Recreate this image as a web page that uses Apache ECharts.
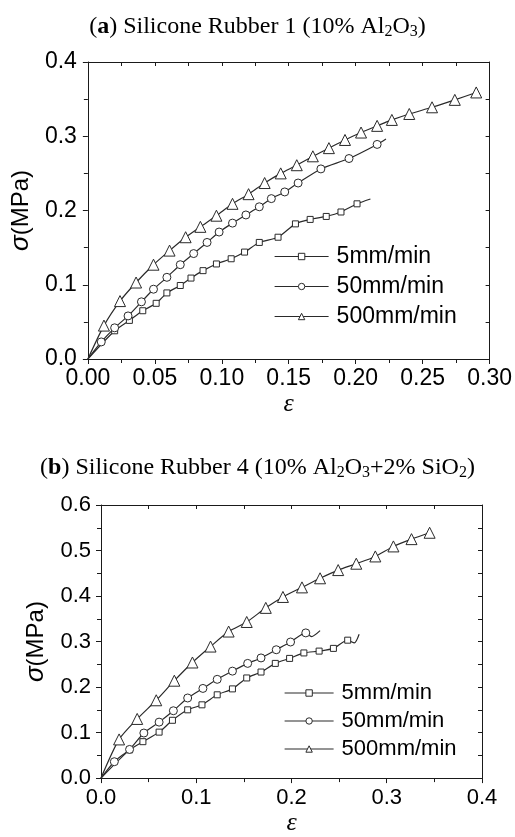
<!DOCTYPE html>
<html>
<head>
<meta charset="utf-8">
<script src="https://cdn.jsdelivr.net/npm/echarts@6/dist/echarts.min.js"></script>
<style>
html,body{margin:0;padding:0;background:#fff;}
#c{width:515px;height:837px;}
</style>
</head>
<body>
<div id="c"></div>
<script>
// ---------- Panel (a) data ----------
const seriesNames = ['5mm/min', '50mm/min', '500mm/min'];
const a_eps_5   = [0.020,0.031,0.041,0.051,0.059,0.069,0.077,0.086,0.096,0.107,0.117,0.128,0.142,0.155,0.166,0.178,0.189,0.201];
const a_sig_5   = [0.038,0.052,0.065,0.075,0.089,0.099,0.109,0.119,0.128,0.135,0.144,0.157,0.164,0.182,0.188,0.192,0.198,0.209];
const a_tail_eps_5 = [0.211];
const a_tail_sig_5 = [0.2155];
const a_eps_50  = [0.010,0.020,0.030,0.040,0.049,0.059,0.069,0.079,0.089,0.098,0.108,0.118,0.128,0.137,0.147,0.157,0.174,0.195,0.216];
const a_sig_50  = [0.023,0.042,0.058,0.077,0.094,0.110,0.127,0.142,0.157,0.171,0.183,0.194,0.205,0.216,0.225,0.237,0.256,0.270,0.289];
const a_tail_eps_50 = [0.2226];
const a_tail_sig_50 = [0.2963];
const a_eps_500 = [0.012,0.024,0.036,0.049,0.061,0.073,0.084,0.096,0.108,0.120,0.132,0.144,0.156,0.168,0.180,0.192,0.204,0.216,0.227,0.240,0.257,0.274,0.290];
const a_sig_500 = [0.045,0.078,0.103,0.127,0.146,0.164,0.178,0.193,0.209,0.222,0.237,0.250,0.261,0.273,0.284,0.295,0.305,0.314,0.322,0.330,0.339,0.349,0.359];
const a_xTickLabels = ['0.00','0.05','0.10','0.15','0.20','0.25','0.30'];
const a_yTickLabels = ['0.0','0.1','0.2','0.3','0.4'];

// ---------- Panel (b) data ----------
const b_eps_5   = [0.030,0.044,0.061,0.075,0.091,0.106,0.122,0.138,0.153,0.168,0.183,0.198,0.213,0.229,0.244,0.259];
const b_sig_5   = [0.062,0.080,0.101,0.127,0.150,0.161,0.183,0.196,0.220,0.233,0.252,0.263,0.275,0.279,0.285,0.303];
const b_tail_eps_5 = [0.266,0.271];
const b_tail_sig_5 = [0.297,0.316];
const b_eps_50  = [0.014,0.030,0.045,0.061,0.076,0.091,0.107,0.122,0.138,0.154,0.168,0.184,0.199,0.215];
const b_sig_50  = [0.036,0.063,0.099,0.123,0.148,0.176,0.197,0.217,0.235,0.252,0.264,0.282,0.299,0.319];
const b_tail_eps_50 = [0.221,0.230];
const b_tail_sig_50 = [0.311,0.324];
const b_eps_500 = [0.019,0.038,0.058,0.077,0.096,0.115,0.134,0.153,0.173,0.191,0.211,0.230,0.249,0.268,0.288,0.307,0.326,0.345];
const b_sig_500 = [0.085,0.130,0.171,0.214,0.254,0.289,0.322,0.343,0.374,0.398,0.419,0.439,0.457,0.471,0.487,0.509,0.525,0.539];
const b_xTickLabels = ['0.0','0.1','0.2','0.3','0.4'];
const b_yTickLabels = ['0.0','0.1','0.2','0.3','0.4','0.5','0.6'];

// ---------- builders ----------
const LINE = '#2a2a2a';
const AX = '#1a1a1a';
function build(eps, sig, tailEps, tailSig) {
  const d = [{value: [0, 0], symbol: 'none'}];
  for (let i = 0; i < eps.length; i++) d.push([eps[i], sig[i]]);
  for (let i = 0; i < tailEps.length; i++) d.push({value: [tailEps[i], tailSig[i]], symbol: 'none'});
  return d;
}
const symbols = ['rect', 'circle', 'triangle'];
function makeSeries(idx, name, data, sizes) {
  return {
    type: 'line', name: name, xAxisIndex: idx * 2, yAxisIndex: idx * 2,
    data: data, smooth: 0.25,
    symbol: symbols[seriesNames.indexOf(name)],
    symbolSize: sizes[seriesNames.indexOf(name)],
    showAllSymbol: true,
    lineStyle: {color: LINE, width: 1.2},
    itemStyle: {color: '#fff', borderColor: LINE, borderWidth: 1},
    emphasis: {disabled: true},
    animation: false
  };
}
const sansLbl = (size) => ({color: '#000', fontFamily: 'Liberation Sans', fontSize: size});

function axesFor(g, xmax, xint, xTopInt, xLabels, ymax, yint, yRightInt, yLabels, fs, xNameGap, yNameGap, xMargin, yMargin) {
  const line = {show: true, onZero: false, lineStyle: {color: AX, width: 1}};
  const xAxes = [
    {gridIndex: g, type: 'value', position: 'bottom', min: 0, max: xmax, interval: xint,
     axisLine: line, splitLine: {show: false},
     axisTick: {show: true, inside: false, length: 5, lineStyle: {color: AX}},
     minorTick: {show: true, splitNumber: 2, length: 4, lineStyle: {color: AX}},
     axisLabel: Object.assign(sansLbl(fs), {margin: xMargin, formatter: v => xLabels[Math.round(v / xint)]}),
     name: 'ε', nameLocation: 'middle', nameGap: xNameGap,
     nameTextStyle: {fontFamily: 'Liberation Serif', fontStyle: 'italic', fontSize: 26, color: '#000'}},
    {gridIndex: g, type: 'value', position: 'top', min: 0, max: xmax, interval: xTopInt,
     axisLine: line, splitLine: {show: false}, axisLabel: {show: false},
     axisTick: {show: true, inside: true, length: 4, lineStyle: {color: AX}}}
  ];
  const yAxes = [
    {gridIndex: g, type: 'value', position: 'left', min: 0, max: ymax, interval: yint,
     axisLine: line, splitLine: {show: false},
     axisTick: {show: true, inside: false, length: 5, lineStyle: {color: AX}},
     minorTick: {show: true, splitNumber: 2, length: 4, lineStyle: {color: AX}},
     axisLabel: Object.assign(sansLbl(fs), {margin: yMargin, formatter: v => yLabels[Math.round(v / yint)]}),
     name: '{i|σ}{n|(MPa)}', nameLocation: 'middle', nameGap: yNameGap, nameRotate: 90,
     nameTextStyle: {rich: {
       i: {fontFamily: 'Liberation Sans', fontStyle: 'italic', fontSize: 26, color: '#000'},
       n: {fontFamily: 'Liberation Sans', fontSize: 24, color: '#000'}}}},
    {gridIndex: g, type: 'value', position: 'right', min: 0, max: ymax, interval: yRightInt,
     axisLine: line, splitLine: {show: false}, axisLabel: {show: false},
     axisTick: {show: true, inside: true, length: 4, lineStyle: {color: AX}}}
  ];
  return {xAxes, yAxes};
}

const A = axesFor(0, 0.3, 0.05, 0.025, a_xTickLabels, 0.4, 0.1, 0.05, a_yTickLabels, 23, 22, 51, 8, 11);
const B = axesFor(1, 0.4, 0.1, 0.05, b_xTickLabels, 0.6, 0.1, 0.05, b_yTickLabels, 22, 19, 52, 9, 10);

const titleRich = (fs) => ({
  t: {fontFamily: 'Liberation Serif', fontSize: fs, fontWeight: 'normal', color: '#000', lineHeight: 26},
  b: {fontFamily: 'Liberation Serif', fontSize: fs, fontWeight: 'bold', color: '#000', lineHeight: 26},
  s: {fontFamily: 'Liberation Serif', fontSize: Math.round(fs * 0.65), fontWeight: 'normal', color: '#000', lineHeight: 15, verticalAlign: 'bottom'}
});

const sizesA = [6, 8, 11];
const sizesB = [6, 8, 11];

const legendBase = {orient: 'vertical', padding: 0, selectedMode: false, data: seriesNames,
  itemHeight: 8,
  itemStyle: {color: '#fff', borderColor: LINE, borderWidth: 1},
  lineStyle: {color: LINE, width: 1.2}};

const option = {
  backgroundColor: '#fff',
  animation: false,
  title: [
    {text: '{t|(}{b|a}{t|) Silicone Rubber 1 (10% Al}{s|2}{t|O}{s|3}{t|)}', left: 'center', top: 9,
     textStyle: {fontWeight: 'normal', rich: titleRich(24)}},
    {text: '{t|(}{b|b}{t|) Silicone Rubber 4 (10% Al}{s|2}{t|O}{s|3}{t|+2% SiO}{s|2}{t|)}', left: 'center', top: 450,
     textStyle: {fontWeight: 'normal', rich: titleRich(24)}}
  ],
  grid: [
    {left: 83, top: 62, width: 408, height: 297},
    {left: 101, top: 505, width: 381, height: 279}
  ],
  xAxis: A.xAxes.concat(B.xAxes),
  yAxis: A.yAxes.concat(B.yAxes),
  legend: [
    Object.assign({}, legendBase, {left: 274, top: 245, itemWidth: 54, itemGap: 7,
     textStyle: {fontFamily: 'Liberation Sans', fontSize: 23, color: '#000', padding: [0, 0, 0, 3]}}),
    Object.assign({}, legendBase, {left: 284, top: 682, itemWidth: 49, itemGap: 6,
     textStyle: {fontFamily: 'Liberation Sans', fontSize: 22, color: '#000', padding: [0, 0, 0, 3]}})
  ],
  series: [
    makeSeries(0, '5mm/min',   build(a_eps_5,   a_sig_5,   a_tail_eps_5,  a_tail_sig_5),  sizesA),
    makeSeries(0, '50mm/min',  build(a_eps_50,  a_sig_50,  a_tail_eps_50, a_tail_sig_50), sizesA),
    makeSeries(0, '500mm/min', build(a_eps_500, a_sig_500, [], []), sizesA),
    makeSeries(1, '5mm/min',   build(b_eps_5,   b_sig_5,   b_tail_eps_5,  b_tail_sig_5),  sizesB),
    makeSeries(1, '50mm/min',  build(b_eps_50,  b_sig_50,  b_tail_eps_50, b_tail_sig_50), sizesB),
    makeSeries(1, '500mm/min', build(b_eps_500, b_sig_500, [], []), sizesB)
  ]
};
const chart = echarts.init(document.getElementById('c'), null, {renderer: 'canvas'});
chart.setOption(option);
</script>
</body>
</html>
